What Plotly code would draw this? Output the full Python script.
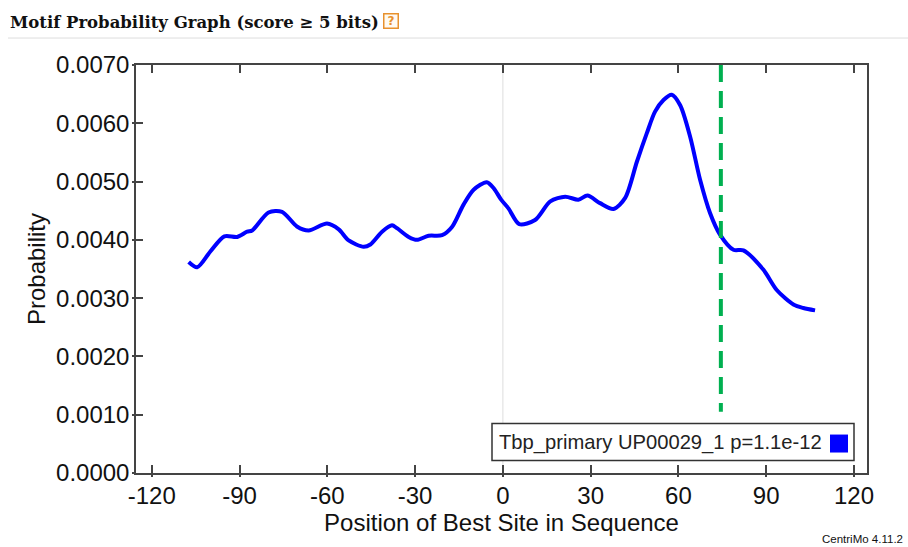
import plotly.graph_objects as go

# ---------------- data ----------------
positions = [-107.4, -104.5, -100.0, -95.2, -90.8, -87.4, -85.7, -80.1, -75.5, -70.4,
             -66.4, -60.1, -56.1, -52.7, -47.6, -45.3, -41.3, -37.9, -36.2, -32.2,
             -29.4, -25.4, -20.8, -17.4, -13.5, -10.0, -5.5, -3.2, -0.6, 1.9,
             5.6, 11.0, 16.2, 21.3, 25.8, 28.9, 33.2, 37.8, 41.8, 45.8,
             49.2, 52.0, 54.9, 57.7, 60.6, 64.0, 67.4, 70.8, 74.2, 78.8,
             82.2, 89.0, 93.6, 99.3, 102.7, 106.7]
probability = [0.00362, 0.00353, 0.00380, 0.00406, 0.00405, 0.00414, 0.00416, 0.00447, 0.00448, 0.00423,
               0.00416, 0.00428, 0.00418, 0.00399, 0.00388, 0.00392, 0.00414, 0.00425, 0.00420, 0.00405,
               0.00400, 0.00407, 0.00408, 0.00422, 0.00460, 0.00486, 0.00499, 0.00489, 0.00469, 0.00454,
               0.00427, 0.00434, 0.00466, 0.00474, 0.00469, 0.00476, 0.00463, 0.00453, 0.00472, 0.00534,
               0.00583, 0.00620, 0.00640, 0.00649, 0.00631, 0.00577, 0.00503, 0.00446, 0.00409, 0.00383,
               0.00382, 0.00349, 0.00314, 0.00289, 0.00283, 0.00279]

series_name = "Tbp_primary UP00029_1"
p_value = "1.1e-12"
marker_position = 74.5          # green dashed reference line
marker_y_span = [0.0070, 0.00105]
x_tick_values = [-120, -90, -60, -30, 0, 30, 60, 90, 120]
x_tick_labels = ["-120", "-90", "-60", "-30", "0", "30", "60", "90", "120"]
y_tick_values = [0.0, 0.001, 0.002, 0.003, 0.004, 0.005, 0.006, 0.007]

title_text = "Motif Probability Graph (score \u2265 5 bits)"
x_title = "Position of Best Site in Sequence"
y_title = "Probability"
credit = "CentriMo 4.11.2"

# ---------------- geometry ----------------
W, H = 908, 547
# plot-area edges in screen pixels
L, R, T, B = 136, 867, 65, 473.5
X_RANGE = [-125.4, 124.45]
Y_RANGE = [0, 0.007]


def px(xs):
    """screen x pixel -> paper x"""
    return (xs - L) / (R - L)


def py(ys):
    """screen y pixel -> paper y"""
    return (B - ys) / (B - T)


SANS = "Liberation Sans, Arial, sans-serif"
AXIS_COLOR = "#444444"
TEXT_COLOR = "#111111"

fig = go.Figure()

fig.add_trace(go.Scatter(
    x=positions, y=probability, mode="lines",
    line=dict(color="#0000ff", width=4, shape="spline", smoothing=0.8),
    showlegend=False, hoverinfo="x+y",
))

fig.add_trace(go.Scatter(
    x=[marker_position, marker_position], y=marker_y_span, mode="lines",
    xaxis="x2", yaxis="y2",
    line=dict(color="#00b050", width=4, dash="17px,9px"),
    showlegend=False, hoverinfo="skip",
))

shapes = [
    # light grey line at position 0
    dict(type="line", xref="x", yref="paper", x0=0, x1=0, y0=0, y1=1,
         line=dict(color="#dddddd", width=1), layer="below"),
    # separator under heading
    dict(type="line", xref="paper", yref="paper", x0=px(8), x1=px(908), y0=py(38), y1=py(38),
         line=dict(color="#dddddd", width=1)),
    # legend box
    dict(type="rect", xref="paper", yref="paper", x0=px(492), x1=px(854), y0=py(461), y1=py(424),
         line=dict(color="#333333", width=1.5), fillcolor="white", layer="above"),
    # legend swatch
    dict(type="rect", xref="paper", yref="paper", x0=px(830), x1=px(848), y0=py(453), y1=py(435),
         line=dict(color="#0000ff", width=0), fillcolor="#0000ff", layer="above"),
]

annotations = [
    dict(text="<b>" + title_text + "</b>", xref="paper", yref="paper", x=px(8), y=py(22),
         xanchor="left", yanchor="middle", showarrow=False,
         font=dict(family="DejaVu Serif, serif", size=16.5, color=TEXT_COLOR)),
    dict(text="<b>?</b>", xref="paper", yref="paper", x=px(391), y=py(21),
         xanchor="center", yanchor="middle", showarrow=False, width=13, height=13,
         bordercolor="#e8912d", borderwidth=1.5, borderpad=0, bgcolor="#fffaf2",
         font=dict(family="DejaVu Sans, sans-serif", size=12, color="#e8912d")),
    dict(text=series_name + " p=" + p_value, xref="paper", yref="paper", x=px(497), y=py(443),
         xanchor="left", yanchor="middle", showarrow=False,
         font=dict(family=SANS, size=20.2, color="#222222")),
    dict(text=credit, xref="paper", yref="paper", x=px(905), y=py(540),
         xanchor="right", yanchor="middle", showarrow=False,
         font=dict(family=SANS, size=11.5, color=TEXT_COLOR)),
]

fig.update_layout(
    width=W, height=H,
    margin=dict(l=L, r=W - R, t=T, b=H - B, pad=0),
    paper_bgcolor="white", plot_bgcolor="white",
    font=dict(family=SANS, size=24, color=TEXT_COLOR),
    shapes=shapes, annotations=annotations,
    showlegend=False,
    xaxis=dict(
        range=X_RANGE, tickvals=x_tick_values, ticktext=x_tick_labels,
        showgrid=False, zeroline=False,
        showline=True, linecolor=AXIS_COLOR, linewidth=1.5, mirror="ticks",
        ticks="inside", ticklen=8, tickwidth=1.5, tickcolor=AXIS_COLOR,
        tickfont=dict(size=24, family=SANS, color=TEXT_COLOR),
        title=dict(text=x_title, font=dict(size=24, family=SANS, color=TEXT_COLOR), standoff=6),
    ),
    yaxis=dict(
        range=Y_RANGE, tickvals=y_tick_values, tickformat=".4f",
        showgrid=False, zeroline=False,
        showline=True, linecolor=AXIS_COLOR, linewidth=1.5, mirror=True,
        ticks="inside", ticklen=7, tickwidth=1.5, tickcolor=AXIS_COLOR,
        tickfont=dict(size=24, family=SANS, color=TEXT_COLOR),
        title=dict(text=y_title, font=dict(size=24, family=SANS, color=TEXT_COLOR), standoff=4),
    ),
    # overlay axes: short outer tick stubs on bottom/left
    xaxis2=dict(
        overlaying="x", anchor="y2", side="bottom", range=X_RANGE, tickvals=x_tick_values,
        showticklabels=False, showgrid=False, zeroline=False, showline=False,
        ticks="outside", ticklen=3, tickwidth=1.5, tickcolor=AXIS_COLOR,
    ),
    yaxis2=dict(
        overlaying="y", anchor="x2", side="left", range=Y_RANGE, tickvals=y_tick_values,
        showticklabels=False, showgrid=False, zeroline=False, showline=False,
        ticks="outside", ticklen=3, tickwidth=1.5, tickcolor=AXIS_COLOR,
    ),
)

# remove the default page margin so the figure fills the window exactly
fig.write_html(
    "out.html",
    config={"displayModeBar": False},
    post_script="document.body.style.margin='0';document.body.style.overflow='hidden';",
)
